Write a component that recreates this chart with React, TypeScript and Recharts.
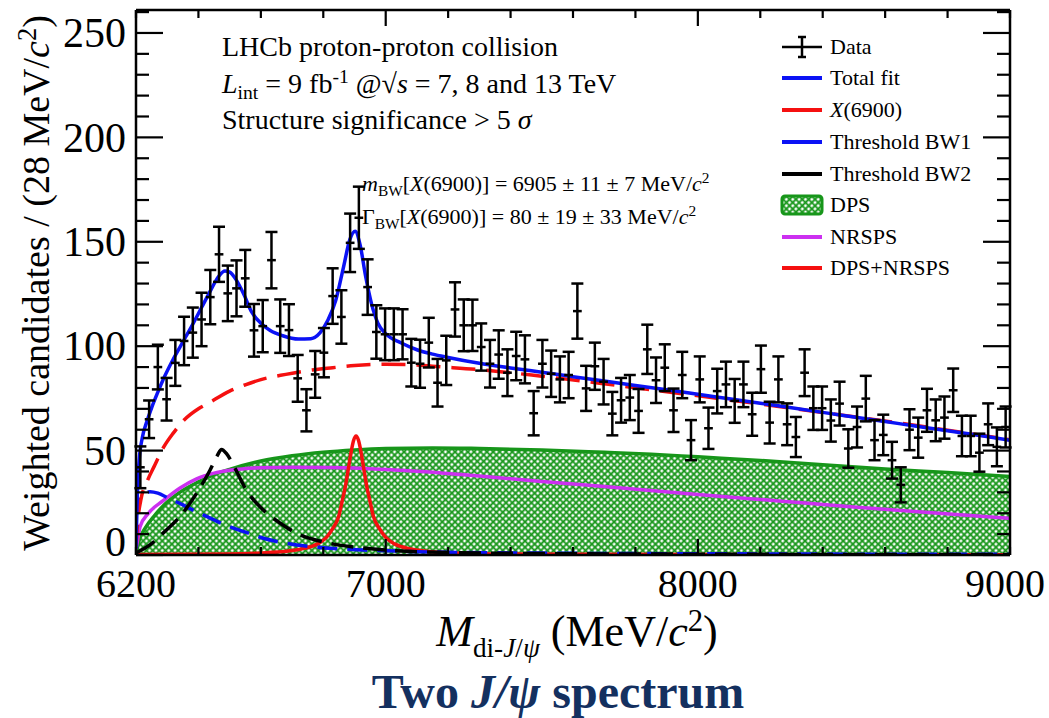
import { ComposedChart, Line, Area, Scatter, ErrorBar, XAxis, YAxis } from "recharts";

const serif = '"Liberation Serif", "Times New Roman", serif';
const blue = "#0b12f5"; const red = "#f51010"; const green = "#17961a"; const violet = "#cc30f0"; const navy = "#14305f";

// histogram: 100 bins of 28 MeV from 6200
const binStart = 6200; const binWidth = 28;
const counts = [42, 65, 90, 74.6, 92, 102.5, 106.5, 112.8, 123.5, 144,
  125.3, 127.7, 132.5, 107.6, 109.6, 141.2, 109.6, 107.7, 84.6, 69.3,
  86.5, 96.9, 124, 114, 149.5, 161.5, 128.3, 106.8, 105.7, 105.7,
  105.7, 92.1, 91.6, 101.7, 82.5, 93.2, 117.6, 110, 110, 99.6,
  91.6, 96, 87.3, 95.3, 93.7, 67.9, 91.6, 86.8, 84.1, 86.2,
  116.8, 79.8, 90.4, 83, 67.7, 74.1, 75.4, 69, 98.5, 83.7,
  89.7, 69.3, 86.2, 55, 84.1, 60.7, 78.5, 81.7, 73.8, 81.7,
  67.4, 89, 63.4, 84.1, 62.6, 56.5, 87.3, 70.3, 70.3, 64.4,
  72.5, 51, 61.3, 74.9, 55, 57.5, 45.4, 33.6, 60, 56.2,
  69.3, 64.5, 65.8, 78.9, 57, 57, 49, 62.6, 51.8, 61.3];
const errors = [10, 9, 10.7, 10.2, 11, 11.6, 12, 12.8, 13, 13.2,
  13.3, 13.4, 13.6, 12.6, 12.5, 13.5, 12.8, 12.4, 11.2, 10.1,
  11.2, 11.8, 13.3, 12.8, 14, 14.9, 13.3, 12.8, 12.4, 12.4,
  12, 11.4, 11.5, 11.9, 11.4, 11.8, 13, 12.4, 12.3, 11.3,
  11.4, 11.6, 11.2, 11.6, 11.5, 10.6, 11.4, 11.1, 11, 11.1,
  13.2, 10.8, 11.3, 10.9, 10.4, 10.7, 10.8, 10.5, 11.8, 10.9,
  11.2, 10.4, 11.1, 9.6, 11, 9.9, 10.7, 10.9, 10.5, 10.9,
  10.3, 11.3, 10, 11, 10, 9.6, 11.2, 10.4, 10.4, 10.1,
  10.5, 9.2, 9.8, 10.9, 9.6, 9.7, 8.8, 8.4, 9.8, 9.6,
  10.3, 10, 10.1, 10.4, 9.7, 9.7, 9.1, 10, 9.3, 9.8];

// fit curves, read as [mass, value]
const totalFit: [number, number][] = [[6200, 3], [6204, 28], [6210, 45], [6220, 56], [6235, 64], [6250, 70.5], [6270, 78], [6290, 85],
  [6320, 94], [6350, 102], [6380, 110], [6410, 118.5], [6440, 127], [6465, 133.5], [6485, 136], [6500, 135.5], [6520, 132],
  [6545, 125], [6570, 116.5], [6600, 111], [6630, 107.5], [6670, 105], [6720, 103.4], [6760, 103.6], [6790, 106.5],
  [6815, 112.5], [6840, 122], [6865, 138], [6885, 151], [6902, 155], [6918, 148.5], [6935, 134], [6955, 120], [6975, 111],
  [7000, 106], [7050, 101.5], [7100, 98.3], [7150, 96.2], [7200, 94.6], [7300, 91.8], [7400, 89.6], [7500, 87.5],
  [7600, 85.4], [7700, 83.3], [7800, 81.2], [7900, 79.1], [8000, 77], [8100, 74.8], [8200, 72.7], [8300, 70.5],
  [8400, 68.3], [8500, 66.1], [8600, 63.9], [8700, 61.7], [8800, 59.5], [8900, 57.3], [9000, 55]];
const x6900: [number, number][] = [[6200, 0.2], [6500, 0.5], [6605, 1], [6680, 1.8], [6730, 2.9], [6780, 5.2], [6810, 8.4],
  [6830, 12.6], [6850, 18.8], [6860, 25.5], [6870, 32.3], [6880, 41], [6890, 50], [6897, 54.8], [6905, 57], [6913, 54.8],
  [6920, 50], [6930, 41], [6940, 32.3], [6950, 25.5], [6960, 18.8], [6980, 12.6], [7000, 8.4], [7030, 5.2], [7080, 2.9],
  [7130, 1.8], [7205, 1], [7400, 0.5], [8000, 0.2], [9000, 0.1]];
const bw1: [number, number][] = [[6200, 18], [6210, 26], [6225, 29.5], [6245, 30.3], [6270, 29.6], [6300, 27.5], [6350, 24],
  [6394, 20.7], [6450, 16.8], [6500, 13.5], [6560, 10.5], [6608, 8], [6660, 6.2], [6715, 4.8], [6770, 3.9], [6822, 3.2],
  [6930, 2.4], [7050, 1.8], [7200, 1.3], [7500, 0.9], [8000, 0.6], [8500, 0.4], [9000, 0.3]];
const bw2: [number, number][] = [[6200, 1], [6250, 5.5], [6287, 10.5], [6340, 18.3], [6394, 29.5], [6437, 40.6], [6460, 47.5],
  [6474, 50.5], [6490, 48.5], [6512, 43], [6554, 31], [6608, 21.5], [6661, 15.3], [6715, 10.4], [6822, 5.6], [6928, 3.3],
  [7035, 2], [7200, 1.2], [7500, 0.7], [8000, 0.4], [9000, 0.2]];
const dps: [number, number][] = [[6200, 0], [6210, 7], [6230, 13], [6260, 19], [6290, 24], [6340, 30], [6400, 35], [6450, 38.5],
  [6500, 41], [6600, 45], [6700, 47.5], [6800, 49.2], [6900, 50.3], [7000, 51], [7150, 51.3], [7300, 51], [7500, 50.3],
  [7700, 49.2], [7850, 48.3], [8000, 47], [8200, 45.3], [8400, 43.2], [8600, 41.2], [8800, 39.5], [9000, 37.6]];
const nrsps: [number, number][] = [[6200, 3], [6205, 7], [6213, 13.5], [6240, 20], [6287, 26], [6340, 32], [6394, 36.5],
  [6450, 39.2], [6500, 40.6], [6600, 41.8], [6700, 42], [6820, 41.9], [7000, 41], [7140, 39.8], [7300, 37.8], [7500, 35.2],
  [7700, 32.8], [8000, 29], [8250, 26], [8500, 23], [8750, 20.2], [9000, 17.5]];
const dpsNrsps: [number, number][] = [[6200, 3], [6205, 15], [6215, 26], [6235, 35], [6260, 43], [6290, 52], [6320, 58.5],
  [6350, 64], [6400, 70], [6430, 72.5], [6500, 78.5], [6550, 81.5], [6600, 84], [6680, 86.5], [6760, 88.5], [6830, 89.7],
  [6900, 90.8], [7000, 91.4], [7100, 91], [7150, 90.4], [7300, 88.8], [7500, 85.6], [7700, 82], [7900, 78.2], [8100, 74.3],
  [8300, 70.3], [8500, 66.2], [8700, 62], [8900, 57.5], [9000, 55.2]];

const xTicks = [6200, 6400, 6600, 6800, 7000, 7200, 7400, 7600, 7800, 8000, 8200, 8400, 8600, 8800, 9000];
const xLabels = [6200, 7000, 8000, 9000];
const xMajor = [7000, 8000];
const yTicks = [0, 10, 20, 30, 40, 50, 60, 70, 80, 90, 100, 110, 120, 130, 140, 150, 160, 170, 180, 190, 200, 210, 220, 230, 240, 250, 260];
const yLabels = [0, 50, 100, 150, 200, 250];

const points = counts.map((v, i) => ({ m: binStart + binWidth * (i + 0.5), v, err: errors[i], xerr: binWidth / 2 }));

const curveSets: Record<string, [number, number][]> = { totalFit, x6900, bw1, bw2, dps, nrsps, dpsNrsps };
const masses = Array.from(new Set(Object.values(curveSets).flatMap(s => s.map(p => p[0])))).sort((a, b) => a - b);
const rows = masses.map(m => {
  const r: any = { m };
  for (const k in curveSets) { const p = curveSets[k].find(q => q[0] === m); if (p) r[k] = p[1]; }
  return r;
});

const ax = { stroke: "#000", strokeWidth: 2.5 };

function LeftTick(p: any) {
  const v = p.payload.value; const major = yLabels.includes(v);
  return <g>
    <line x1={p.x} x2={p.x + (major ? 27 : 13)} y1={p.y} y2={p.y} stroke="#000" strokeWidth={2.2} />
    {major && <text x={p.x - 10} y={v === 0 ? p.y - 13 : p.y} dy="0.34em" textAnchor="end" fontFamily={serif} fontSize={42} fill="#000">{v}</text>}
  </g>;
}
function RightTick(p: any) {
  const major = yLabels.includes(p.payload.value);
  return <line x1={p.x} x2={p.x - (major ? 27 : 13)} y1={p.y} y2={p.y} stroke="#000" strokeWidth={2.2} />;
}
function BottomTick(p: any) {
  const v = p.payload.value; const major = xMajor.includes(v);
  return <g>
    <line x1={p.x} x2={p.x} y1={p.y} y2={p.y - (major ? 16 : 8)} stroke="#000" strokeWidth={2.2} />
    {xLabels.includes(v) && <text x={v === 9000 ? p.x - 5 : p.x} y={p.y + 42} textAnchor="middle" fontFamily={serif} fontSize={40} fill="#000">{v}</text>}
  </g>;
}
function TopTick(p: any) {
  const major = xMajor.includes(p.payload.value);
  return <line x1={p.x} x2={p.x} y1={p.y} y2={p.y + (major ? 16 : 8)} stroke="#000" strokeWidth={2.2} />;
}
const NoDot = () => <g />;

function Sample({ kind, color }: { kind: string; color: string }) {
  return <svg width={44} height={24} style={{ position: "absolute", left: 780, top: -12 }}>
    {kind === "data" && <g stroke="#000" strokeWidth={2.5}><line x1={2} x2={42} y1={12} y2={12} /><line x1={22} x2={22} y1={2} y2={22} /><line x1={18} x2={26} y1={2} y2={2} /><line x1={18} x2={26} y1={22} y2={22} /></g>}
    {kind === "line" && <line x1={2} x2={42} y1={12} y2={12} stroke={color} strokeWidth={4} />}
    {kind === "box" && <rect x={2} y={3} width={40} height={18} rx={3} fill="url(#hatchLeg)" stroke={green} strokeWidth={3} />}
  </svg>;
}

const legend = [
  { label: <>Data</>, kind: "data", color: "#000", y: 47 },
  { label: <>Total fit</>, kind: "line", color: blue, y: 78 },
  { label: <><i>X</i>(6900)</>, kind: "line", color: red, y: 110 },
  { label: <>Threshold BW1</>, kind: "line", color: blue, y: 142 },
  { label: <>Threshold BW2</>, kind: "line", color: "#000", y: 174 },
  { label: <>DPS</>, kind: "box", color: green, y: 205 },
  { label: <>NRSPS</>, kind: "line", color: violet, y: 237 },
  { label: <>DPS+NRSPS</>, kind: "line", color: red, y: 268 },
];

const sub = { fontSize: "0.7em", position: "relative", top: "0.3em" } as const;
const sup = { fontSize: "0.7em", position: "relative", top: "-0.5em" } as const;

function TextAt({ x, y, size, children, style }: any) {
  return <div style={{ position: "absolute", left: x, top: y - size * 0.5, height: size, fontSize: size, lineHeight: 1, whiteSpace: "nowrap", ...style }}>{children}</div>;
}

export default function App() {
  return (
    <div style={{ position: "absolute", left: 0, top: 0, width: 1049, height: 718, background: "#fff", fontFamily: serif, color: "#000", overflow: "hidden" }}>
      <ComposedChart width={1049} height={718} data={rows} margin={{ top: 9, right: 38, bottom: 162, left: 135 }}>
        <defs>
          <pattern id="hatch" width="4.5" height="4.5" patternUnits="userSpaceOnUse" patternTransform="rotate(45)">
            <rect width="4.5" height="4.5" fill="#fff" />
            <path d="M0 2.25 H4.5 M2.25 0 V4.5" stroke={green} strokeWidth="1.9" />
          </pattern>
        </defs>
        <XAxis xAxisId="b" dataKey="m" type="number" domain={[6200, 9000]} allowDataOverflow ticks={xTicks} interval={0} height={1}
          tickSize={0} tickMargin={0} tickLine={false} axisLine={ax} tick={<BottomTick />} />
        <XAxis xAxisId="t" orientation="top" dataKey="m" type="number" domain={[6200, 9000]} allowDataOverflow ticks={xTicks} interval={0} height={1}
          tickSize={0} tickMargin={0} tickLine={false} axisLine={ax} tick={<TopTick />} />
        <YAxis yAxisId="l" type="number" domain={[0, 261]} allowDataOverflow ticks={yTicks} interval={0} width={1}
          tickSize={0} tickMargin={0} tickLine={false} axisLine={ax} tick={<LeftTick />} />
        <YAxis yAxisId="r" orientation="right" type="number" domain={[0, 261]} allowDataOverflow ticks={yTicks} interval={0} width={1}
          tickSize={0} tickMargin={0} tickLine={false} axisLine={ax} tick={<RightTick />} />
        <Area xAxisId="b" yAxisId="l" type="monotone" dataKey="dps" connectNulls fill="url(#hatch)" fillOpacity={1} stroke={green} strokeWidth={3.5} isAnimationActive={false} />
        <Line xAxisId="b" yAxisId="l" type="monotone" dataKey="nrsps" connectNulls stroke={violet} strokeWidth={3.5} dot={false} isAnimationActive={false} />
        <Line xAxisId="b" yAxisId="l" type="monotone" dataKey="x6900" connectNulls stroke={red} strokeWidth={3.5} dot={false} isAnimationActive={false} />
        <Line xAxisId="b" yAxisId="l" type="monotone" dataKey="bw1" connectNulls stroke={blue} strokeWidth={3.5} strokeDasharray="20 10" dot={false} isAnimationActive={false} />
        <Line xAxisId="b" yAxisId="l" type="monotone" dataKey="bw2" connectNulls stroke="#000" strokeWidth={3.5} strokeDasharray="22 10" dot={false} isAnimationActive={false} />
        <Line xAxisId="b" yAxisId="l" type="monotone" dataKey="dpsNrsps" connectNulls stroke={red} strokeWidth={3.5} strokeDasharray="24 11" dot={false} isAnimationActive={false} />
        <Line xAxisId="b" yAxisId="l" type="monotone" dataKey="totalFit" connectNulls stroke={blue} strokeWidth={3.5} dot={false} isAnimationActive={false} />
        <Scatter xAxisId="b" yAxisId="l" data={points} dataKey="v" shape={<NoDot />} isAnimationActive={false}>
          <ErrorBar dataKey="err" direction="y" width={6} stroke="#000" strokeWidth={2.5} />
          <ErrorBar dataKey="xerr" direction="x" width={0} stroke="#000" strokeWidth={2.5} />
        </Scatter>
      </ComposedChart>

      <svg width={0} height={0} style={{ position: "absolute" }}>
        <defs>
          <pattern id="hatchLeg" width="4.5" height="4.5" patternUnits="userSpaceOnUse" patternTransform="rotate(45)">
            <rect width="4.5" height="4.5" fill="#fff" />
            <path d="M0 2.25 H4.5 M2.25 0 V4.5" stroke={green} strokeWidth="1.9" />
          </pattern>
        </defs>
      </svg>

      {legend.map((e, i) => (
        <div key={i} style={{ position: "absolute", left: 0, top: e.y, width: 1049, height: 0 }}>
          <Sample kind={e.kind} color={e.color} />
          <div style={{ position: "absolute", left: 830, top: -12, fontSize: 22, lineHeight: "24px", whiteSpace: "nowrap" }}>{e.label}</div>
        </div>
      ))}

      <TextAt x={222} y={47} size={28}>LHCb proton-proton collision</TextAt>
      <TextAt x={222} y={84} size={28}><i>L</i><span style={sub}>int</span> = 9 fb<span style={sup}>-1</span> @√<i>s</i> = 7, 8 and 13 TeV</TextAt>
      <TextAt x={222} y={120} size={28}>Structure significance &gt; 5 <i>σ</i></TextAt>
      <TextAt x={362} y={184} size={22}><i>m</i><span style={sub}>BW</span>[<i>X</i>(6900)] = 6905 ± 11 ± 7 MeV/<i>c</i><span style={sup}>2</span></TextAt>
      <TextAt x={362} y={217} size={22}>Γ<span style={sub}>BW</span>[<i>X</i>(6900)] = 80 ± 19 ± 33 MeV/<i>c</i><span style={sup}>2</span></TextAt>

      <div style={{ position: "absolute", left: 36, top: 283, transform: "translate(-50%, -50%) rotate(-90deg)", fontSize: 38, whiteSpace: "nowrap", lineHeight: 1 }}>
        Weighted candidates / (28 MeV/<i>c</i><span style={sup}>2</span>)
      </div>
      <div style={{ position: "absolute", left: 577, top: 632, transform: "translate(-50%, -50%)", fontSize: 44, whiteSpace: "nowrap", lineHeight: 1 }}>
        <i>M</i><span style={{ fontSize: "0.62em", position: "relative", top: "0.4em" }}>di-<i>J</i>/<i>ψ</i></span> (MeV/<i>c</i><span style={sup}>2</span>)
      </div>
      <div style={{ position: "absolute", left: 558, top: 692, transform: "translate(-50%, -50%)", fontSize: 48, fontWeight: "bold", color: navy, whiteSpace: "nowrap", lineHeight: 1 }}>
        Two <i>J/ψ</i> spectrum
      </div>
    </div>
  );
}
